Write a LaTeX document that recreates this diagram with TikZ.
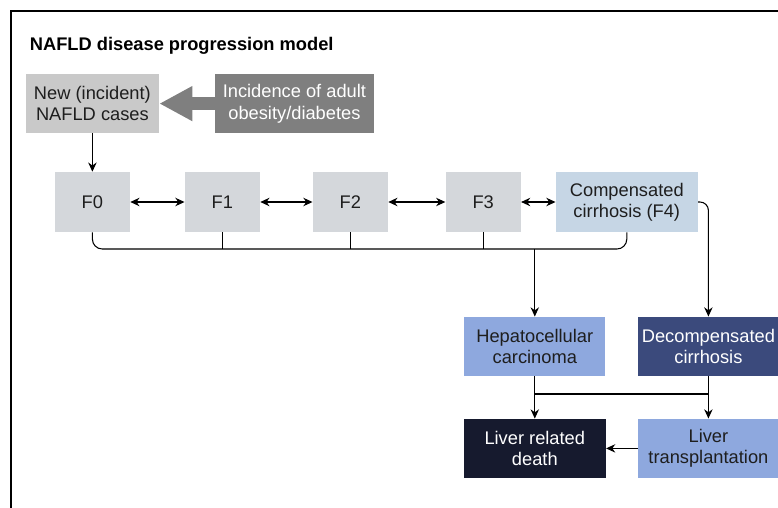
\documentclass[tikz,border=0pt]{standalone}
\usepackage{fontspec}
\setmainfont{Liberation Sans}
\usetikzlibrary{shapes.geometric, arrows, arrows.meta}

\definecolor{newgrey}{HTML}{C9C9C9}
\definecolor{obesegrey}{HTML}{7F7F7F}
\definecolor{stagegrey}{HTML}{D4D7DB}
\definecolor{compblue}{HTML}{C6D6E5}
\definecolor{lightblue}{HTML}{8EA8DE}
\definecolor{darkblue}{HTML}{3B4A7C}
\definecolor{navy}{HTML}{161A2E}
\definecolor{ink}{HTML}{1E1E1E}

\tikzstyle{box} = [rectangle, inner sep=1pt, align=center, text centered, font=\fontsize{13}{15.2}\selectfont]
\tikzstyle{source} = [box, minimum width=3.33cm, minimum height=1.48cm, fill=newgrey, text=ink]
\tikzstyle{driver} = [box, minimum width=3.98cm, minimum height=1.48cm, fill=obesegrey, text=white]
\tikzstyle{stage} = [box, minimum width=1.88cm, minimum height=1.5cm, fill=stagegrey, text=ink]
\tikzstyle{cirrhosis} = [box, minimum width=3.55cm, minimum height=1.5cm, fill=compblue, text=ink]
\tikzstyle{outcome} = [box, minimum width=3.53cm, minimum height=1.48cm, fill=lightblue, text=ink]
\tikzstyle{severe} = [box, minimum width=3.53cm, minimum height=1.48cm, fill=darkblue, text=white]
\tikzstyle{final} = [box, minimum width=3.55cm, minimum height=1.48cm, fill=navy, text=white]
\tikzstyle{arrow} = [line width=0.75pt, ->, >={Stealth[length=2.3mm, width=2.1mm]}]
\tikzstyle{twoway} = [line width=0.75pt, <->, >={Stealth[length=2.3mm, width=2.1mm]}]
\tikzstyle{link} = [line width=0.75pt]
\tikzstyle{bigarrow} = [draw=obesegrey, line width=0.33cm, -{Triangle[length=0.83cm, width=0.82cm]}]

\begin{document}
\begin{tikzpicture}[node distance=3.25cm]
\useasboundingbox (0,0) rectangle (19.45,-12.7);

% Frame and title
\draw [line width=1pt] (0.275,-12.7) -- (0.275,-0.275) -- (19.45,-0.275);
\node (title) [anchor=west, inner sep=0pt, font=\bfseries\fontsize{13}{15}\selectfont] at (0.74,-1.15) {NAFLD disease progression model};

% Nodes
\node (newcases) [source] at (2.31,-2.59) {New (incident)\\NAFLD cases};
\node (obesity) [driver, right of=newcases, xshift=1.8cm] {Incidence of adult\\obesity/diabetes};
\node (f0) [stage, below of=newcases, yshift=0.79cm] {F0};
\node (f1) [stage, right of=f0] {F1};
\node (f2) [stage, right of=f1, xshift=-0.05cm] {F2};
\node (f3) [stage, right of=f2, xshift=0.07cm] {F3};
\node (comp) [cirrhosis, right of=f3, xshift=0.34cm] {Compensated\\cirrhosis (F4)};
\node (decomp) [severe, below of=comp, xshift=2.04cm, yshift=-0.36cm] {Decompensated\\cirrhosis};
\node (hcc) [outcome, left of=decomp, xshift=-1.09cm] {Hepatocellular\\carcinoma};
\node (death) [final, below of=hcc, yshift=0.7cm] {Liver related\\death};
\node (transplant) [outcome, below of=decomp, yshift=0.7cm] {Liver\\transplantation};

\coordinate (bus) at (0,-6.225);
\coordinate (join) at (0,-9.85);

% Arrows
\draw [bigarrow] (obesity) -- (newcases);
\draw [arrow] (newcases) -- (f0);
\draw [twoway] (f0) -- (f1);
\draw [twoway] (f1) -- (f2);
\draw [twoway] (f2) -- (f3);
\draw [twoway] (f3) -- (comp);
\draw [link, rounded corners=7pt] (f0.south) -- (f0.south |- bus) -| (comp.south);
\draw [link] (f1.south) -- (f1.south |- bus);
\draw [link] (f2.south) -- (f2.south |- bus);
\draw [link] (f3.south) -- (f3.south |- bus);
\draw [arrow] (hcc.north |- bus) -- (hcc.north);
\draw [arrow, rounded corners=6pt] (comp.east) -| (decomp.north);
\draw [arrow] (hcc) -- (death);
\draw [arrow] (decomp) -- (transplant);
\draw [link] (hcc.south |- join) -- (decomp.south |- join);
\draw [arrow] (transplant) -- (death);

\end{tikzpicture}
\end{document}
